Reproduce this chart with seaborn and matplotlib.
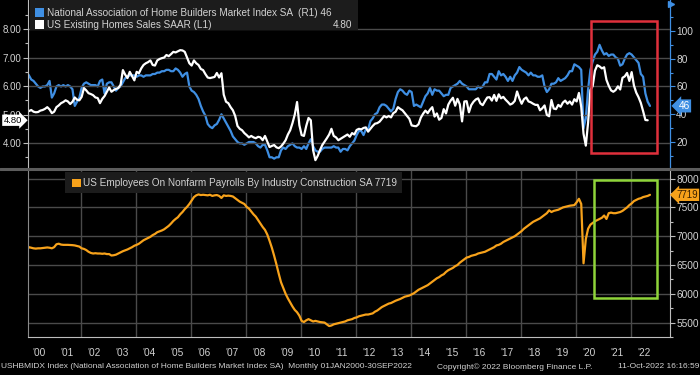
import numpy as np
import pandas as pd
import matplotlib
matplotlib.use("Agg")
import matplotlib.pyplot as plt
import seaborn as sns
from matplotlib.patches import Rectangle
from matplotlib.lines import Line2D

# ---------------- data (monthly, Jan 2000 onward) ----------------
nahb_index = [
    70, 68, 65, 64, 62, 60, 59, 60, 60, 61, 64, 52,   # 2000
    55, 60, 61, 60, 61, 60, 61, 60, 58, 46, 49, 52,   # 2001
    59, 62, 63, 62, 61, 61, 61, 60, 64, 65, 55, 62,   # 2002
    63, 63, 60, 57, 59, 60, 63, 66, 67, 68, 68, 68,   # 2003
    67, 68, 68, 67, 68, 68, 68, 69, 69, 70, 70, 71,   # 2004
    71, 72, 72, 71, 71, 73, 72, 70, 67, 69, 70, 60,   # 2005
    57, 56, 54, 51, 46, 42, 39, 33, 31, 30, 32, 33,   # 2006
    36, 40, 37, 34, 31, 28, 24, 22, 20, 19, 19, 18,   # 2007
    19, 20, 20, 20, 19, 17, 16, 18, 18, 14, 9, 9,     # 2008
    8, 9, 9, 14, 16, 15, 17, 18, 19, 17, 16, 16,      # 2009
    15, 17, 15, 19, 22, 17, 14, 13, 13, 15, 16, 16,   # 2010
    16, 16, 17, 16, 16, 13, 15, 15, 14, 17, 19, 21,   # 2011
    25, 28, 28, 25, 29, 29, 35, 37, 40, 41, 45, 47,   # 2012
    47, 46, 44, 42, 44, 51, 56, 58, 57, 55, 54, 57,   # 2013
    56, 46, 47, 46, 45, 49, 53, 55, 59, 54, 58, 57,   # 2014
    57, 55, 53, 54, 54, 59, 60, 61, 62, 64, 62, 61,   # 2015
    60, 58, 58, 58, 58, 60, 59, 60, 63, 63, 69, 69,   # 2016
    67, 65, 71, 68, 69, 67, 64, 67, 64, 68, 70, 74,   # 2017
    72, 71, 70, 68, 70, 68, 68, 67, 67, 68, 60, 56,   # 2018
    58, 62, 62, 63, 66, 64, 65, 66, 68, 71, 71, 76,   # 2019
    75, 74, 72, 30, 37, 58, 72, 78, 83, 85, 90, 86,   # 2020
    83, 84, 82, 83, 83, 81, 80, 75, 76, 80, 83, 84,   # 2021
    83, 81, 79, 77, 69, 67, 55, 49, 46,               # 2022
]

existing_home_sales = [
    5.17, 5.12, 5.16, 5.10, 5.08, 5.09, 5.14, 5.16, 5.20, 5.26, 5.18, 5.05,  # 2000
    5.10, 5.26, 5.32, 5.40, 5.44, 5.50, 5.46, 5.37, 5.45, 5.60, 5.52, 5.50,  # 2001
    5.62, 5.93, 5.85, 5.75, 5.72, 5.68, 5.60, 5.58, 5.40, 5.55, 5.65, 5.80,  # 2002
    5.95, 5.80, 5.86, 5.90, 5.93, 6.05, 6.56, 6.40, 6.28, 6.50, 6.35, 6.20,  # 2003
    6.50, 6.45, 6.62, 6.74, 6.80, 6.84, 6.90, 6.74, 6.72, 6.90, 6.95, 6.98,  # 2004
    7.00, 7.09, 7.05, 7.12, 7.20, 7.18, 7.22, 7.26, 7.25, 7.20, 7.00, 6.80,  # 2005
    6.72, 6.90, 6.80, 6.74, 6.60, 6.56, 6.42, 6.30, 6.28, 6.30, 6.32, 6.46,  # 2006
    6.30, 6.45, 5.70, 5.45, 5.40, 5.26, 5.15, 4.95, 4.60, 4.50, 4.45, 4.35,  # 2007
    4.28, 4.20, 4.25, 4.20, 4.17, 4.22, 4.20, 4.10, 4.25, 4.05, 3.86, 3.90,  # 2008
    3.93, 3.85, 3.82, 3.88, 3.98, 4.10, 4.30, 4.45, 4.70, 5.00, 5.44, 4.63,  # 2009
    4.28, 4.25, 4.60, 4.88, 4.80, 3.75, 3.40, 3.55, 3.75, 3.93, 4.05, 4.17,  # 2010
    4.30, 4.50, 4.25, 4.20, 4.10, 4.15, 4.20, 4.25, 4.30, 4.22, 4.35, 4.30,  # 2011
    4.46, 4.50, 4.48, 4.53, 4.55, 4.40, 4.50, 4.60, 4.68, 4.70, 4.75, 4.85,  # 2012
    4.95, 4.90, 4.95, 4.90, 5.05, 5.10, 5.26, 5.20, 5.15, 5.05, 4.95, 4.85,  # 2013
    4.62, 4.60, 4.59, 4.66, 4.89, 5.03, 5.14, 5.05, 5.17, 5.26, 4.93, 5.04,  # 2014
    4.82, 4.88, 5.19, 5.04, 5.35, 5.49, 5.59, 5.31, 5.55, 5.36, 4.76, 5.46,  # 2015
    5.47, 5.08, 5.33, 5.45, 5.53, 5.57, 5.39, 5.33, 5.47, 5.60, 5.61, 5.49,  # 2016
    5.69, 5.48, 5.71, 5.57, 5.62, 5.52, 5.44, 5.35, 5.39, 5.48, 5.81, 5.57,  # 2017
    5.38, 5.54, 5.60, 5.46, 5.43, 5.38, 5.34, 5.34, 5.15, 5.22, 5.32, 4.99,  # 2018
    4.94, 5.51, 5.21, 5.19, 5.34, 5.27, 5.42, 5.49, 5.38, 5.46, 5.35, 5.54,  # 2019
    5.46, 5.76, 5.27, 4.33, 3.91, 4.72, 5.86, 6.00, 6.54, 6.73, 6.69, 6.62,  # 2020
    6.66, 6.22, 6.01, 5.85, 5.80, 5.86, 5.99, 5.88, 6.29, 6.34, 6.46, 6.18,  # 2021
    6.49, 6.02, 5.77, 5.61, 5.41, 5.12, 4.81, 4.80,                          # 2022
]

construction_payrolls = [
    6750, 6810, 6800, 6790, 6785, 6790, 6790, 6795, 6800, 6805, 6800, 6790,  # 2000
    6810, 6860, 6870, 6855, 6850, 6850, 6850, 6848, 6845, 6840, 6830, 6820,  # 2001
    6790, 6780, 6760, 6730, 6710, 6700, 6705, 6700, 6700, 6695, 6700, 6690,  # 2002
    6690, 6665, 6670, 6680, 6700, 6720, 6740, 6755, 6770, 6790, 6810, 6835,  # 2003
    6850, 6870, 6900, 6930, 6950, 6970, 6990, 7020, 7040, 7070, 7085, 7100,  # 2004
    7120, 7150, 7180, 7220, 7265, 7300, 7330, 7380, 7420, 7470, 7510, 7560,  # 2005
    7620, 7680, 7710, 7726, 7715, 7720, 7715, 7710, 7720, 7700, 7710, 7715,  # 2006
    7700, 7665, 7710, 7700, 7705, 7700, 7690, 7660, 7630, 7600, 7580, 7560,  # 2007
    7510, 7480, 7430, 7380, 7340, 7280, 7220, 7160, 7110, 7030, 6920, 6800,  # 2008
    6660, 6510, 6350, 6200, 6100, 6000, 5920, 5850, 5780, 5720, 5680, 5620,  # 2009
    5530, 5510, 5540, 5560, 5540, 5520, 5530, 5520, 5510, 5505, 5500, 5470,  # 2010
    5440, 5450, 5470, 5480, 5490, 5500, 5510, 5520, 5540, 5550, 5560, 5580,  # 2011
    5590, 5610, 5620, 5630, 5640, 5640, 5650, 5660, 5690, 5710, 5740, 5770,  # 2012
    5790, 5810, 5830, 5840, 5860, 5880, 5895, 5910, 5930, 5950, 5960, 5970,  # 2013
    5990, 6010, 6040, 6070, 6090, 6110, 6130, 6150, 6180, 6210, 6240, 6270,  # 2014
    6290, 6320, 6340, 6380, 6410, 6430, 6450, 6480, 6500, 6540, 6570, 6600,  # 2015
    6630, 6640, 6660, 6670, 6680, 6700, 6710, 6720, 6730, 6750, 6770, 6790,  # 2016
    6810, 6840, 6850, 6870, 6900, 6920, 6940, 6960, 6980, 7000, 7030, 7060,  # 2017
    7090, 7130, 7160, 7190, 7220, 7250, 7270, 7290, 7310, 7340, 7370, 7400,  # 2018
    7450, 7420, 7440, 7450, 7460, 7480, 7500, 7510, 7520, 7530, 7535, 7540,  # 2019
    7590, 7650, 7560, 6530, 6950, 7130, 7200, 7230, 7260, 7280, 7300, 7320,  # 2020
    7360, 7300, 7400, 7410, 7400, 7400, 7410, 7420, 7440, 7470, 7500, 7540,  # 2021
    7570, 7610, 7630, 7650, 7660, 7680, 7690, 7700, 7719,                    # 2022
]

year_labels = ["'00", "'01", "'02", "'03", "'04", "'05", "'06", "'07", "'08", "'09",
               "'10", "'11", "'12", "'13", "'14", "'15", "'16", "'17", "'18", "'19",
               "'20", "'21", "'22"]
left_ticks = [4, 5, 6, 7, 8]
right_ticks = [20, 40, 60, 80, 100]
bottom_ticks = [5500, 6000, 6500, 7000, 7500, 8000]

nahb_label = "National Association of Home Builders Market Index SA  (R1) 46"
ehs_label = "US Existing Homes Sales SAAR (L1)"
pay_label = "US Employees On Nonfarm Payrolls By Industry Construction SA 7719"

# ---------------- frames ----------------
def monthly(vals):
    n = len(vals)
    return pd.DataFrame({"t": 2000 + (np.arange(n) + 0.5) / 12.0, "v": vals})

df_nahb = monthly(nahb_index)
df_ehs = monthly(existing_home_sales)
df_pay = monthly(construction_payrolls)

# ---------------- style ----------------
sns.set_theme(style="dark")
plt.rcParams['font.family'] = ['Liberation Sans Narrow', 'Liberation Sans', 'DejaVu Sans']
plt.rcParams['axes.facecolor'] = 'black'
plt.rcParams['figure.facecolor'] = 'black'

W, H = 700, 375
BLUE = '#3f8fe3'
ORANGE = '#f7a21b'
GRID = '#4a4a4a'
TXT = '#d2d2d2'

def fx(px):
    return px / W

def fy(py):
    return 1 - py / H

fig = plt.figure(figsize=(7, 3.75), dpi=100, facecolor='black')
x0, x1 = 27.5, 670
PPY = 27.5                      # pixels per year
ax1 = fig.add_axes([fx(x0), fy(167), fx(x1 - x0), 167 / H])
ax1r = ax1.twinx()
ax2 = fig.add_axes([fx(x0), fy(337), fx(x1 - x0), 167 / H])

xmin = 2000 + (x0 - 25.5) / PPY
xmax = 2000 + (x1 - 25.5) / PPY

sns.lineplot(data=df_ehs, x="t", y="v", ax=ax1, color='white', lw=1.6)
sns.lineplot(data=df_nahb, x="t", y="v", ax=ax1r, color=BLUE, lw=1.6)
sns.lineplot(data=df_pay, x="t", y="v", ax=ax2, color=ORANGE, lw=1.6)

for a in (ax1, ax1r, ax2):
    a.set_xlim(xmin, xmax)
    a.set_xlabel("")
    a.set_ylabel("")
    a.set_facecolor('black')

ax1.set_ylim(3.16, 9.02)
ax1r.set_ylim(2.0, 122.3)
ax2.set_ylim(5367, 8150)

# top-left axis
ax1.set_yticks(left_ticks)
ax1.set_yticklabels([f"{v:.2f}" for v in left_ticks])
ax1.set_yticks(np.arange(3.5, 9.0, 1.0), minor=True)
ax1.tick_params(axis='y', which='major', direction='out', length=3.5, width=0.8,
                colors='#bdbdbd', labelcolor=TXT, labelsize=7, pad=0.8)
ax1.tick_params(axis='y', which='minor', direction='out', length=2, width=0.8, colors='#bdbdbd')
ax1.set_xticks([])
ax1.yaxis.grid(True, which='major', color=GRID, lw=1)
ax1.xaxis.grid(False)
ax1.set_zorder(ax1r.get_zorder() + 1)
ax1.patch.set_visible(False)

# top-right axis
ax1r.set_yticks(right_ticks)
ax1r.set_yticklabels([str(v) for v in right_ticks])
ax1r.set_yticks(np.arange(10, 120, 20), minor=True)
ax1r.tick_params(axis='y', which='major', direction='out', length=3.5, width=0.8,
                 colors=BLUE, labelcolor=TXT, labelsize=7.3, pad=1)
ax1r.tick_params(axis='y', which='minor', direction='out', length=2, width=0.8, colors=BLUE)
ax1r.set_xticks([])
ax1r.grid(False)

ax1.spines['top'].set_visible(False)
ax1r.spines['top'].set_visible(False)
ax1.spines['left'].set_color('#bdbdbd')
ax1.spines['left'].set_linewidth(0.8)
ax1.spines['right'].set_visible(False)
ax1r.spines['left'].set_visible(False)
ax1r.spines['right'].set_color(BLUE)
ax1r.spines['right'].set_linewidth(0.9)
ax1.spines['bottom'].set_visible(False)
ax1r.spines['bottom'].set_visible(False)

# bottom axis
ax2.yaxis.tick_right()
ax2.set_yticks(bottom_ticks)
ax2.set_yticklabels([str(v) for v in bottom_ticks])
ax2.set_yticks(np.arange(5250, 8250, 500), minor=True)
ax2.tick_params(axis='y', which='major', direction='out', length=3.5, width=0.8,
                colors='#bdbdbd', labelcolor=TXT, labelsize=7.3, pad=1, left=False, right=True)
ax2.tick_params(axis='y', which='minor', direction='out', length=2, width=0.8,
                colors='#bdbdbd', left=False, right=True)
ax2.yaxis.grid(True, which='major', color=GRID, lw=1)
years = np.arange(2001, 2024)
ax2.set_xticks(np.concatenate([[xmin], years]))
ax2.set_xticklabels([])
ax2.set_xticks(np.arange(2000, 2023) + 0.5, minor=True)
ax2.set_xticklabels(year_labels, minor=True)
ax2.tick_params(axis='x', which='major', direction='out', length=23, width=0.8, colors='#8a8a8a')
ax2.tick_params(axis='x', which='minor', length=0, labelcolor=TXT, labelsize=7.3, pad=8)
ax2.xaxis.grid(False)
for yr in np.arange(2002, 2024, 2):
    ax2.axvline(yr, color=GRID, lw=1, zorder=0)
ax2.spines['top'].set_visible(False)
ax2.spines['left'].set_color('#8a8a8a')
ax2.spines['left'].set_linewidth(0.8)
ax2.spines['right'].set_color('#bdbdbd')
ax2.spines['right'].set_linewidth(0.8)
ax2.spines['bottom'].set_color('#bdbdbd')
ax2.spines['bottom'].set_linewidth(0.8)

# separator between panels
fig.add_artist(Line2D([0, 1], [fy(168.5), fy(168.5)], transform=fig.transFigure,
                      color='#5c5c5c', lw=2.2))

# highlight boxes
ax1.add_patch(Rectangle((2020.56, 3.65), 2.40, 4.63, fill=False, ec='#e0303c', lw=1.8, zorder=5))
ax2.add_patch(Rectangle((2020.67, 5933), 2.29, 2050, fill=False, ec='#8fd43a', lw=1.8, zorder=5))

# legends
fig.add_artist(Rectangle((fx(30), fy(30)), fx(328), 30 / H, transform=fig.transFigure,
                         fc='#1c1c1c', ec='none', zorder=6))
fig.add_artist(Rectangle((fx(35), fy(17)), fx(8.5), 8.5 / H, transform=fig.transFigure,
                         fc=BLUE, ec='none', zorder=7))
fig.add_artist(Rectangle((fx(35), fy(29)), fx(8.5), 8.5 / H, transform=fig.transFigure,
                         fc='white', ec='none', zorder=7))
fig.text(fx(47), fy(12.5), nahb_label, color=TXT, fontsize=7.2, va='center', ha='left', zorder=8)
fig.text(fx(47), fy(24.5), ehs_label, color=TXT, fontsize=7.2, va='center', ha='left', zorder=8)
fig.text(fx(352), fy(24.5), f"{existing_home_sales[-1]:.2f}", color=TXT, fontsize=7.2,
         va='center', ha='right', zorder=8)

fig.add_artist(Rectangle((fx(65), fy(193)), fx(337), 21 / H, transform=fig.transFigure,
                         fc='#1c1c1c', ec='none', zorder=6))
fig.add_artist(Rectangle((fx(72), fy(187)), fx(8.5), 8.5 / H, transform=fig.transFigure,
                         fc=ORANGE, ec='none', zorder=7))
fig.text(fx(83), fy(182.5), pay_label, color=TXT, fontsize=7.2, va='center', ha='left', zorder=8)

# value tags on axes
ax1.annotate(f"{existing_home_sales[-1]:.2f}", xy=(-0.009, existing_home_sales[-1]),
             xycoords=('axes fraction', 'data'), ha='right', va='center', fontsize=6.8,
             color='black', annotation_clip=False, zorder=9,
             bbox=dict(boxstyle='rarrow,pad=0.12', fc='white', ec='none'))
ax1r.annotate(f"{nahb_index[-1]}", xy=(1.013, nahb_index[-1]),
              xycoords=('axes fraction', 'data'), ha='left', va='center', fontsize=7.3,
              color='white', annotation_clip=False,
              bbox=dict(boxstyle='larrow,pad=0.15', fc=BLUE, ec='none'))
ax2.annotate(f"{construction_payrolls[-1]}", xy=(1.01, construction_payrolls[-1]),
             xycoords=('axes fraction', 'data'), ha='left', va='center', fontsize=7,
             color='#3a2000', annotation_clip=False,
             bbox=dict(boxstyle='larrow,pad=0.12', fc=ORANGE, ec='none'))

# little arrow at top of right axis
fig.add_artist(Line2D([fx(671)], [fy(4)], transform=fig.transFigure, marker='>',
                      color=BLUE, markersize=4, lw=0))

# footer
fig.text(fx(1), fy(367), "USHBMIDX Index (National Association of Home Builders Market Index SA)  "
         "Monthly 01JAN2000-30SEP2022", color=TXT, fontsize=6.0, va='center', ha='left')
fig.text(fx(437), fy(367), "Copyright\u00a9 2022 Bloomberg Finance L.P.", color=TXT,
         fontsize=6.0, va='center', ha='left')
fig.text(fx(699), fy(367), "11-Oct-2022 16:16:59", color=TXT, fontsize=6.0,
         va='center', ha='right')

fig.savefig("out.png", dpi=100, facecolor='black')
